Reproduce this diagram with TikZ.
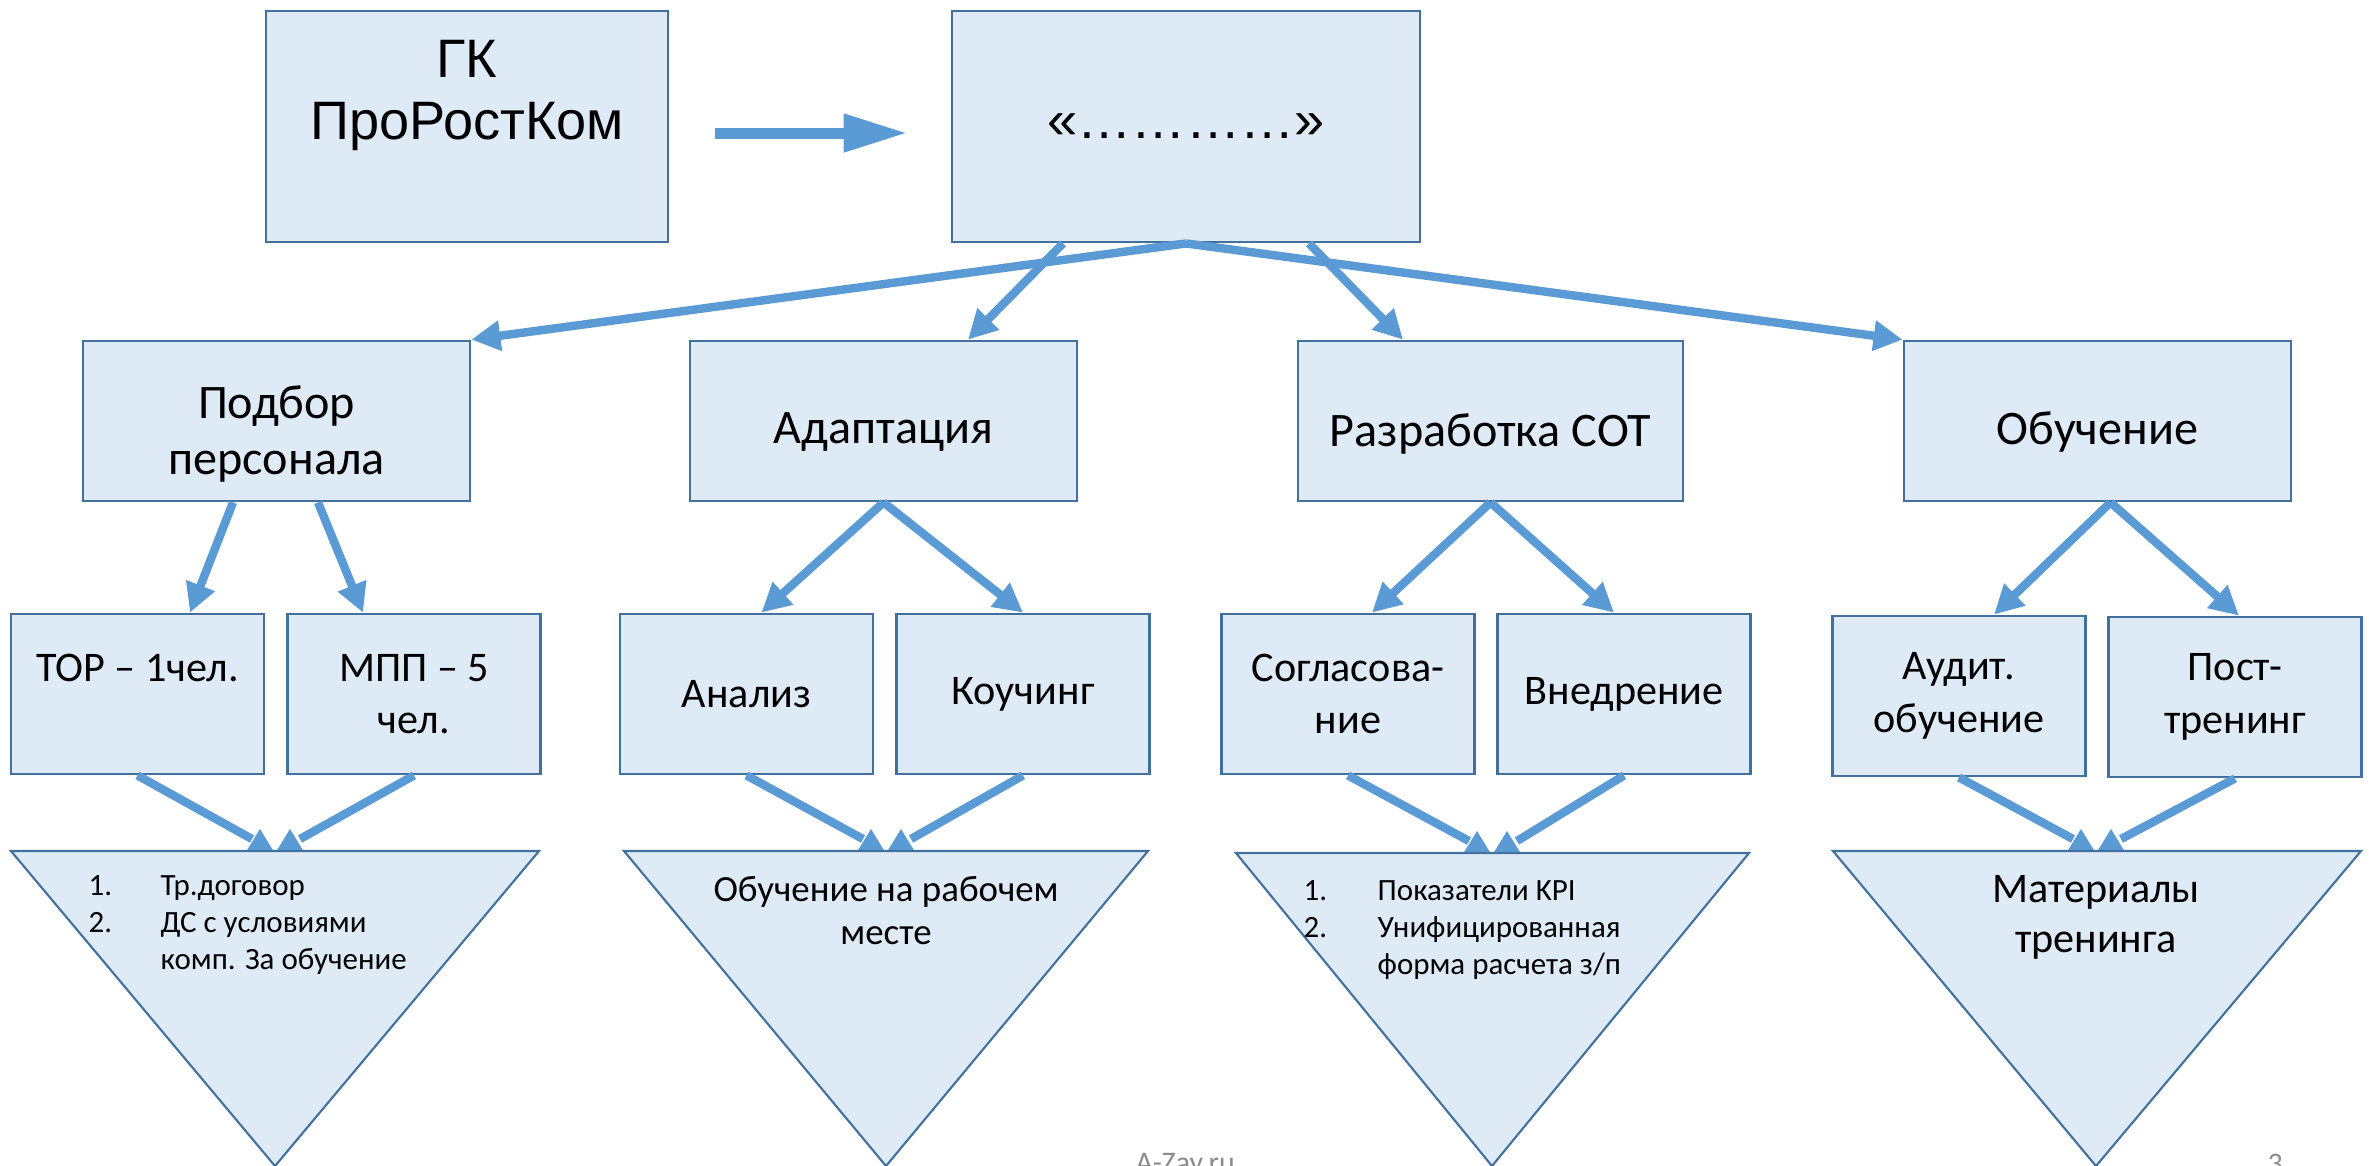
\documentclass[tikz,border=0pt]{standalone}
\usepackage{fontspec}
\setmainfont{Carlito}
\newfontfamily\arialfont{Liberation Sans}
\usetikzlibrary{arrows.meta}
\definecolor{boxfill}{HTML}{DEEBF7}
\definecolor{boxline}{HTML}{41719C}
\definecolor{arrowcol}{HTML}{5B9BD5}
\definecolor{footgray}{HTML}{8C8C8C}

\begin{document}
\begin{tikzpicture}[
		box/.style={draw=boxline, fill=boxfill, line width=0.8pt, inner sep=0pt, align=center},
		topbox/.style={box, minimum height=2.31cm, font=\arialfont\fontsize{15.4}{17.6}\selectfont},
		midbox/.style={box, minimum width=3.87cm, minimum height=1.60cm},
		midtext/.style={inner sep=0pt, align=center, font=\fontsize{13.7}{16.2}\selectfont},
		lowbox/.style={box, minimum width=2.53cm, minimum height=1.60cm, font=\fontsize{12}{15}\selectfont},
		tri/.style={draw=boxline, fill=boxfill, line width=0.6pt},
		flow/.style={draw=arrowcol, line width=2.4pt, -{Triangle[length=0.29cm,width=0.29cm]}},
		feed/.style={draw=arrowcol, line width=2.4pt},
		uptip/.style={fill=arrowcol},
		bigflow/.style={draw=arrowcol, line width=0.11cm, -{Triangle[length=0.64cm,width=0.36cm]}},
		listtext/.style={anchor=north west, inner sep=0pt, align=left, font=\fontsize{8.8}{10.5}\selectfont},
		foot/.style={anchor=north west, inner sep=0pt, text=footgray, font=\fontsize{8.5}{10}\selectfont}
	]
			\useasboundingbox (0,0) rectangle (23.69,-11.65);
			
			% top row
			\node[topbox, minimum width=4.02cm] (gk) at (4.67,-1.265) {};
			\node[anchor=north, inner sep=0pt, align=center, font=\arialfont\fontsize{15.4}{17.6}\selectfont] (gktext) at (4.67,-0.40) {ГК\\ПроРостКом};
			\node[topbox, minimum width=4.68cm] (dots) at (11.86,-1.265) {«…………»};
			
			\draw[bigflow, shorten <=0.46cm, shorten >=0.43cm] ([yshift=-0.065cm]gk.east) -- ([yshift=-0.065cm]dots.west);
			
			% directions
			\node[midbox] (podbor) at (2.765,-4.21) {};
			\node[midbox] (adapt) at (8.835,-4.21) {};
			\node[midbox, minimum width=3.85cm] (razr) at (14.905,-4.21) {};
			\node[midbox] (obuch) at (20.975,-4.21) {};
			\node[midtext] (podbortext) at ([yshift=-0.13cm]podbor) {Подбор\\персонала};
			\node[midtext] (adapttext) at ([yshift=-0.11cm]adapt) {Адаптация};
			\node[midtext] (razrtext) at ([yshift=-0.13cm]razr) {Разработка СОТ};
			\node[midtext] (obuchtext) at ([yshift=-0.11cm]obuch) {Обучение};
			
			\draw[flow] (dots.south) -- (podbor.north east);
			\draw[flow] ([xshift=-1.23cm]dots.south) -- ([xshift=0.845cm]adapt.north);
			\draw[flow] ([xshift=1.23cm]dots.south) -- ([xshift=-0.875cm]razr.north);
			\draw[flow] (dots.south) -- (obuch.north west);
			
			% steps
			\node[lowbox] (tor) at (1.375,-6.94) {ТОР – 1чел.\\\phantom{ч}};
			\node[lowbox] (mpp) at (4.14,-6.94) {МПП – 5\\чел.};
			\node[lowbox] (analiz) at (7.465,-6.94) {Анализ};
			\node[lowbox] (kouch) at (10.23,-6.94) {Коучинг};
			\node[lowbox] (sogl) at (13.48,-6.94) {Согласова-\\ние};
			\node[lowbox] (vnedr) at (16.24,-6.94) {Внедрение};
			\node[lowbox] (audit) at (19.59,-6.96) {Аудит.\\обучение};
			\node[lowbox] (post) at (22.35,-6.97) {Пост-\\тренинг};
			
			\draw[flow] ([xshift=-0.435cm]podbor.south) -- ([xshift=0.525cm]tor.north);
			\draw[flow] ([xshift=0.415cm]podbor.south) -- ([xshift=-0.51cm]mpp.north);
			\draw[flow] (adapt.south) -- ([xshift=0.15cm]analiz.north);
			\draw[flow] (adapt.south) -- (kouch.north);
			\draw[flow] (razr.south) -- ([xshift=0.24cm]sogl.north);
			\draw[flow] (razr.south) -- ([xshift=-0.1cm]vnedr.north);
			\draw[flow] ([xshift=0.13cm]obuch.south) -- ([xshift=0.35cm]audit.north);
			\draw[flow] ([xshift=0.13cm]obuch.south) -- ([xshift=0.04cm]post.north);
			
			% results
			\coordinate (t1) at (2.75,-8.51);
			\coordinate (t2) at (8.86,-8.51);
			\coordinate (t3) at (14.92,-8.53);
			\coordinate (t4) at (20.96,-8.51);
			
			\draw[feed] (tor.south) -- ([xshift=-0.23cm,yshift=0.12cm]t1);
			\draw[feed] (mpp.south) -- ([xshift=0.25cm,yshift=0.12cm]t1);
			\draw[feed] (analiz.south) -- ([xshift=-0.23cm,yshift=0.12cm]t2);
			\draw[feed] (kouch.south) -- ([xshift=0.25cm,yshift=0.12cm]t2);
			\draw[feed] (sogl.south) -- ([xshift=-0.23cm,yshift=0.12cm]t3);
			\draw[feed] (vnedr.south) -- ([xshift=0.25cm,yshift=0.12cm]t3);
			\draw[feed] (audit.south) -- ([xshift=-0.23cm,yshift=0.12cm]t4);
			\draw[feed] (post.south) -- ([xshift=0.25cm,yshift=0.12cm]t4);
			
			\fill[uptip] ([xshift=-0.285cm]t1) -- ++(0.135,0.22) -- ++(0.135,-0.22) -- cycle;
			\fill[uptip] ([xshift=0.015cm]t1) -- ++(0.135,0.22) -- ++(0.135,-0.22) -- cycle;
			\fill[uptip] ([xshift=-0.285cm]t2) -- ++(0.135,0.22) -- ++(0.135,-0.22) -- cycle;
			\fill[uptip] ([xshift=0.015cm]t2) -- ++(0.135,0.22) -- ++(0.135,-0.22) -- cycle;
			\fill[uptip] ([xshift=-0.285cm]t3) -- ++(0.135,0.22) -- ++(0.135,-0.22) -- cycle;
			\fill[uptip] ([xshift=0.015cm]t3) -- ++(0.135,0.22) -- ++(0.135,-0.22) -- cycle;
			\fill[uptip] ([xshift=-0.285cm]t4) -- ++(0.135,0.22) -- ++(0.135,-0.22) -- cycle;
			\fill[uptip] ([xshift=0.015cm]t4) -- ++(0.135,0.22) -- ++(0.135,-0.22) -- cycle;
			
			\draw[tri] (0.11,-8.51) -- (5.39,-8.51) -- (2.75,-11.66) -- cycle;
			\draw[tri] (6.24,-8.51) -- (11.48,-8.51) -- (8.86,-11.66) -- cycle;
			\draw[tri] (12.36,-8.53) -- (17.49,-8.53) -- (14.92,-11.66) -- cycle;
			\draw[tri] (18.33,-8.51) -- (23.61,-8.51) -- (20.96,-11.66) -- cycle;
			
			\node[listtext] (num1) at (0.88,-8.75) {1.\\2.};
			\node[listtext] (list1) at (1.60,-8.75) {Тр.договор\\ДС с условиями\\комп. За обучение};
			\node[anchor=north, inner sep=0pt, align=center, font=\fontsize{10.5}{12.2}\selectfont] (res2) at (8.86,-8.76) {Обучение на рабочем\\месте};
			\node[listtext] (num3) at (13.03,-8.80) {1.\\2.};
			\node[listtext] (list3) at (13.77,-8.80) {Показатели KPI\\Унифицированная\\форма расчета з/п};
			\node[anchor=north, inner sep=0pt, align=center, font=\fontsize{12}{14.2}\selectfont] (res4) at (20.96,-8.75) {Материалы\\тренинга};
			
			% footer
			\node[foot] (site) at (11.35,-11.53) {A-Zay.ru};
			\node[foot] (pagenum) at (22.67,-11.53) {3};
		\end{tikzpicture}
\end{document}
